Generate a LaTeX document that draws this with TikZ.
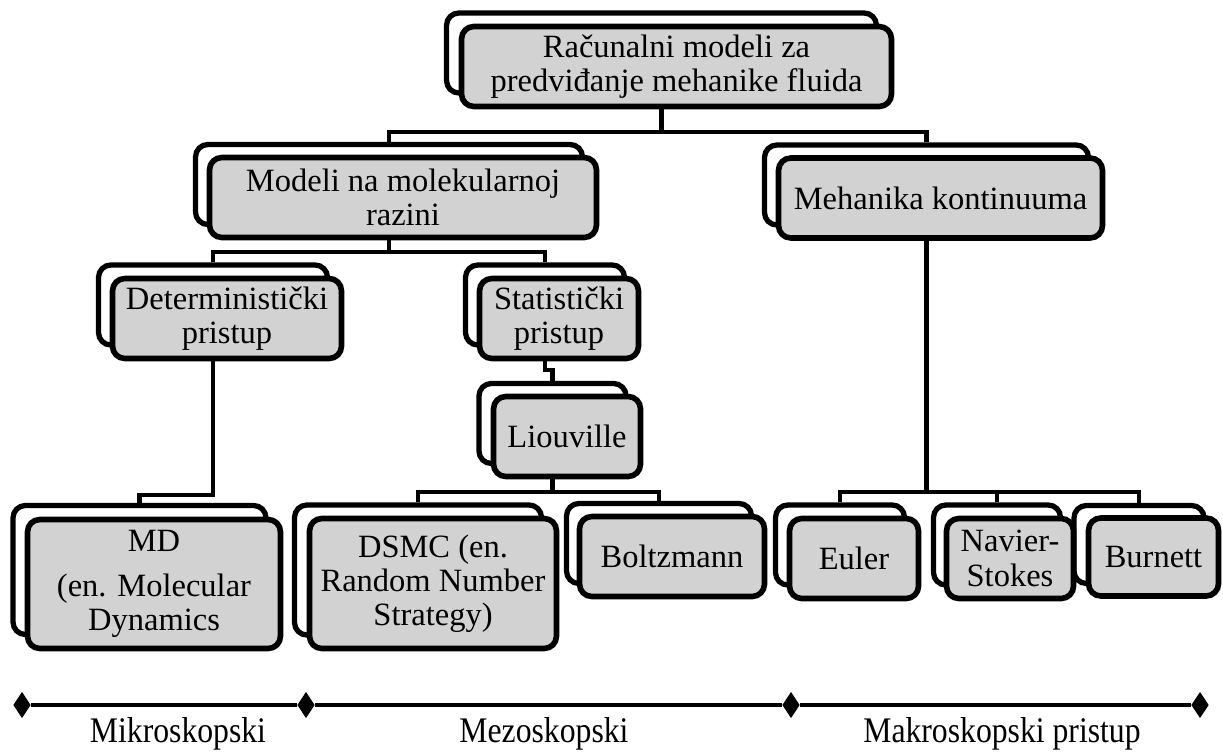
\documentclass[tikz,border=0pt]{standalone}
\usepackage{fontspec}
\setmainfont{Liberation Serif}
\newfontfamily\narrowfont[FakeStretch=0.88]{Liberation Serif}
\usetikzlibrary{shapes.geometric}

\begin{document}
\begin{tikzpicture}[x=0.02cm,y=-0.02cm,
    back/.style={draw,line width=3pt,rounded corners=7pt,fill=white,
      inner sep=0pt,minimum height=1.6cm},
    box/.style={draw,line width=3.2pt,rounded corners=7pt,fill=gray!35,
      inner sep=0pt,minimum height=1.6cm,align=center,
      font=\fontsize{18.5}{19.5}\selectfont},
    link/.style={line width=2.8pt},
    ele/.style={diamond,fill=black,inner sep=0pt,minimum width=10pt,
      minimum height=15pt},
    lev/.style={anchor=base,font=\narrowfont\fontsize{20.5}{22}\selectfont}]

  \useasboundingbox (0,0) rectangle (1223,753);

  % the boxes behind

  \node[back,minimum width=8.6cm] (topb) at (661.5,53) {};
  \node[back,minimum width=7.74cm] (mlb) at (389,184.5) {};
  \node[back,minimum width=6.48cm] (mkb) at (926.5,185) {};
  \node[back,minimum width=4.58cm] (deb) at (213,305) {};
  \node[back,minimum width=3.18cm] (stb) at (545,305) {};
  \node[back,minimum width=2.94cm] (lib) at (552.5,423.5) {};
  \node[back,minimum width=5.06cm,minimum height=2.58cm] (mdb) at (139.5,570) {};
  \node[back,minimum width=4.94cm,minimum height=2.6cm] (dsb) at (418,570) {};
  \node[back,minimum width=3.7cm] (bob) at (659,543.5) {};
  \node[back,minimum width=2.58cm] (eub) at (840,545) {};
  \node[back,minimum width=2.54cm] (nsb) at (997,545) {};
  \node[back,minimum width=2.6cm,minimum height=1.56cm] (bub) at (1139,544.5) {};

  % the boxes in front

  \node[box,minimum width=8.6cm] (top) at (676.5,66.5)
  {Računalni modeli za\\predviđanje mehanike fluida};
  \node[box,minimum width=7.74cm] (ml) at (403,197.5)
  {Modeli na molekularnoj\\razini};
  \node[box,minimum width=6.48cm] (mk) at (940.5,198) {Mehanika kontinuuma};
  \node[box,minimum width=4.58cm] (de) at (227,318.5) {Deterministički\\pristup};
  \node[box,minimum width=3.18cm] (st) at (559,318.5) {Statistički\\pristup};
  \node[box,minimum width=2.94cm] (li) at (567,436.5) {Liouville};
  \node[box,minimum width=5.06cm,minimum height=2.58cm] (md) at (154,584)
  {MD\\[6pt](en. Molecular\\Dynamics};
  \node[box,minimum width=4.94cm,minimum height=2.6cm] (ds) at (433,583.5)
  {DSMC (en.\\Random Number\\Strategy)};
  \node[box,minimum width=3.7cm] (bo) at (672,556.5) {Boltzmann};
  \node[box,minimum width=2.58cm] (eu) at (854,558.5) {Euler};
  \node[box,minimum width=2.54cm] (ns) at (1010,558.5) {Navier-\\Stokes};
  \node[box,minimum width=2.6cm,minimum height=1.56cm] (bu) at (1153.5,557) {Burnett};

  % the links

  \coordinate (j0) at (0,132);
  \coordinate (j1) at (0,252);
  \coordinate (j2) at (0,495);
  \coordinate (j3) at (0,370);
  \coordinate (j4) at (0,492);

  \draw[link] (topb.south |- top.south) -- (topb.south |- j0);
  \draw[link] (mlb.north) |- (topb.south |- j0) -| (mkb.north);
  \draw[link] (mlb.south |- ml.south) -- (mlb.south |- j1);
  \draw[link] (deb.north) |- (mlb.south |- j1) -| (stb.north);
  \draw[link] (deb.south |- de.south) -- (deb.south |- j2) -| (mdb.north);
  \draw[link] (stb.south |- st.south) -- (stb.south |- j3) -| (lib.north);
  \draw[link] (lib.south |- li.south) -- (lib.south |- j4);
  \draw[link] (dsb.north) |- (lib.south |- j4) -| (bob.north);
  \draw[link] (mkb.south |- mk.south) -- (mkb.south |- j4);
  \draw[link] (eub.north) |- (mkb.south |- j4) -| (bub.north);
  \draw[link] (nsb.north) -- (nsb.north |- j4);

  % the scale

  \node[ele] (d1) at (22,705) {};
  \node[ele] (d2) at (306,705) {};
  \node[ele] (d3) at (791,705) {};
  \node[ele] (d4) at (1200,705) {};
  \draw[line width=1.8pt] (d1) -- (d2) -- (d3) -- (d4);

  \node[lev] (mik) at (178,742) {Mikroskopski};
  \node[lev] (mez) at (544,742) {Mezoskopski};
  \node[lev] (mak) at (1002,742) {Makroskopski pristup};
\end{tikzpicture}
\end{document}
